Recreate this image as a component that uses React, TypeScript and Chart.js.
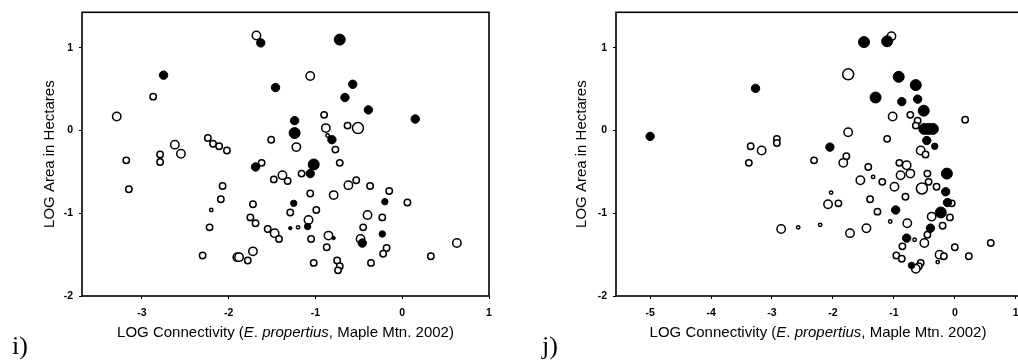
import React, { useEffect, useRef } from "react";
import { Chart, registerables } from "chart.js";
Chart.register(...registerables);

type Pt = [number, number, number];

const yTicks = [-2, -1, 0, 1];
const leftXTicks = [-3, -2, -1, 0, 1];
const rightXTicks = [-5, -4, -3, -2, -1, 0, 1];
const yTitle = "LOG Area in Hectares";
const xTitleParts: [string, boolean][] = [
  ["LOG Connectivity (", false],
  ["E", true],
  [". ", false],
  ["propertius", true],
  [", Maple Mtn. 2002)", false],
];

// [log connectivity, log area, size class]
const leftFilled: Pt[] = [
  [-2.75, 0.67, 3], [-1.63, 1.06, 3], [-0.72, 1.10, 4], [-1.46, 0.52, 3],
  [-0.57, 0.56, 3], [-0.66, 0.40, 3], [-0.39, 0.25, 3], [0.15, 0.14, 3],
  [-1.24, 0.12, 3], [-1.24, -0.03, 4], [-0.81, -0.11, 3], [-1.69, -0.44, 3],
  [-1.02, -0.41, 4], [-1.06, -0.52, 3], [-0.20, -0.86, 2], [-1.25, -0.88, 2],
  [-1.29, -1.18, 1], [-1.09, -1.16, 2], [-0.23, -1.25, 2], [-0.46, -1.36, 3],
  [-0.79, -1.30, 1],
];

const leftOpen: Pt[] = [
  [-2.87, 0.41, 2], [-3.29, 0.17, 3], [-3.18, -0.36, 2], [-2.79, -0.29, 2],
  [-2.79, -0.38, 2], [-2.62, -0.17, 3], [-2.55, -0.28, 3], [-2.24, -0.09, 2],
  [-2.18, -0.16, 2], [-2.11, -0.19, 2], [-2.02, -0.24, 2], [-1.68, 1.15, 3],
  [-1.06, 0.66, 3], [-0.90, 0.19, 2], [-0.88, 0.03, 3], [-0.63, 0.06, 2],
  [-0.51, 0.03, 4], [-1.51, -0.11, 2], [-1.22, -0.20, 3], [-0.86, -0.06, 1],
  [-0.77, -0.23, 2], [-0.72, -0.39, 2], [-1.62, -0.39, 2], [-1.16, -0.52, 2],
  [-1.38, -0.54, 3], [-1.32, -0.61, 2], [-1.48, -0.59, 2], [-0.53, -0.60, 2],
  [-1.06, -0.76, 2], [-0.79, -0.78, 3], [-0.62, -0.66, 3], [-0.37, -0.67, 2],
  [-0.15, -0.73, 2], [0.06, -0.87, 2], [-1.72, -0.89, 2], [-1.29, -0.99, 2],
  [-0.99, -0.96, 2], [-1.75, -1.05, 2], [-1.69, -1.12, 2], [-0.40, -1.02, 3],
  [-0.23, -1.05, 2], [-1.55, -1.19, 2], [-1.47, -1.24, 3], [-1.42, -1.31, 2],
  [-1.20, -1.17, 1], [-1.08, -1.08, 3], [-0.45, -1.17, 2], [-1.05, -1.31, 2],
  [-0.85, -1.27, 3], [-0.87, -1.41, 2], [-0.48, -1.31, 3], [-0.18, -1.42, 2],
  [-0.22, -1.49, 2], [0.63, -1.36, 3], [0.33, -1.52, 2], [-1.02, -1.60, 2],
  [-0.75, -1.57, 2], [-0.72, -1.64, 2], [-0.74, -1.69, 2], [-0.36, -1.60, 2],
  [-1.90, -1.53, 3], [-1.88, -1.53, 3], [-1.78, -1.57, 2], [-1.72, -1.46, 3],
  [-3.15, -0.71, 2], [-2.07, -0.67, 2], [-2.09, -0.83, 2], [-2.20, -0.96, 1],
  [-2.22, -1.17, 2], [-2.30, -1.51, 2],
];

const rightFilled: Pt[] = [
  [-5.0, -0.07, 3], [-3.27, 0.51, 3], [-1.49, 1.07, 4], [-1.11, 1.08, 4],
  [-0.92, 0.65, 4], [-0.64, 0.55, 4], [-1.30, 0.40, 4], [-0.87, 0.35, 3],
  [-0.61, 0.38, 3], [-0.51, 0.24, 4], [-0.50, 0.02, 4], [-0.43, 0.02, 4],
  [-0.36, 0.02, 4], [-0.46, -0.12, 3], [-0.33, -0.19, 2], [-2.05, -0.20, 3],
  [-0.13, -0.52, 4], [-0.15, -0.74, 3], [-0.12, -0.87, 3], [-0.97, -0.96, 3],
  [-0.23, -0.99, 4], [-0.40, -1.18, 3], [-0.79, -1.30, 3], [-0.71, -1.63, 2],
];

const rightOpen: Pt[] = [
  [-3.35, -0.19, 2], [-3.17, -0.24, 3], [-2.92, -0.10, 2], [-2.92, -0.15, 2],
  [-3.38, -0.39, 2], [-1.04, 1.14, 3], [-1.75, 0.68, 4], [-1.02, 0.17, 3],
  [-0.73, 0.19, 2], [-0.61, 0.12, 2], [-0.64, 0.06, 2], [0.17, 0.13, 2],
  [-1.75, -0.02, 3], [-1.11, -0.10, 2], [-0.56, -0.24, 3], [-0.48, -0.29, 2],
  [-2.31, -0.36, 2], [-1.78, -0.31, 2], [-1.83, -0.39, 3], [-1.42, -0.44, 2],
  [-0.91, -0.39, 2], [-0.79, -0.42, 3], [-0.73, -0.52, 3], [-0.89, -0.54, 3],
  [-0.45, -0.52, 2], [-0.43, -0.62, 2], [-1.55, -0.60, 3], [-1.34, -0.56, 1],
  [-1.19, -0.62, 2], [-0.99, -0.68, 3], [-0.54, -0.70, 4], [-0.30, -0.68, 2],
  [-2.03, -0.75, 1], [-2.08, -0.89, 3], [-1.91, -0.88, 2], [-1.39, -0.83, 2],
  [-0.81, -0.80, 2], [-0.05, -0.88, 2], [-1.27, -0.98, 2], [-1.06, -1.10, 1],
  [-0.78, -1.12, 3], [-0.38, -1.04, 3], [-0.08, -1.05, 2], [-0.20, -1.15, 2],
  [-2.85, -1.19, 3], [-2.57, -1.17, 1], [-2.21, -1.14, 1], [-1.72, -1.24, 3],
  [-1.45, -1.18, 3], [-0.45, -1.26, 2], [-0.66, -1.32, 1], [-0.50, -1.36, 3],
  [-0.86, -1.40, 2], [0.00, -1.41, 2], [0.59, -1.36, 2], [-0.96, -1.51, 2],
  [-0.87, -1.55, 2], [-0.25, -1.50, 3], [-0.18, -1.52, 2], [-0.28, -1.59, 1],
  [0.23, -1.52, 2], [-0.56, -1.60, 2], [-0.59, -1.64, 2], [-0.64, -1.67, 3],
];

const RADII = [0, 1.7, 3.2, 4.2, 5.5];
const FONT = "'Liberation Sans', Arial, Helvetica, sans-serif";
const H = 362;
const PLOT_TOP = 11;
const PLOT_BOTTOM = 296;
const Y_W = 30;
const X_H = 30;
const TITLE_SIZE = 15;

type PanelProps = {
  left: number;
  width: number;
  plotLeft: number;
  plotRight: number;
  xMin: number;
  xMax: number;
  xTicks: number[];
  filled: Pt[];
  open: Pt[];
  yTitleX: number;
};

function Panel(p: PanelProps) {
  const ref = useRef<HTMLCanvasElement | null>(null);
  useEffect(() => {
    const canvas = ref.current;
    if (!canvas) return;
    const toData = (a: Pt[]) => a.map(([x, y, s]) => ({ x, y, s }));

    const framePlugin = {
      id: "frame",
      afterDraw(chart: any) {
        const { ctx, chartArea: a } = chart;
        ctx.save();
        ctx.strokeStyle = "#000";
        ctx.lineWidth = 1.6;
        ctx.strokeRect(a.left, a.top, a.right - a.left, a.bottom - a.top);
        ctx.restore();
      },
    };

    const titlePlugin = {
      id: "titles",
      afterDraw(chart: any) {
        const { ctx, chartArea: a } = chart;
        ctx.save();
        ctx.fillStyle = "#000";
        ctx.textBaseline = "middle";
        ctx.textAlign = "center";
        ctx.font = `${TITLE_SIZE}px ${FONT}`;
        ctx.translate(p.yTitleX, (a.top + a.bottom) / 2);
        ctx.rotate(-Math.PI / 2);
        ctx.fillText(yTitle, 0, 0);
        ctx.restore();

        ctx.save();
        ctx.fillStyle = "#000";
        ctx.textBaseline = "middle";
        ctx.textAlign = "left";
        const fontOf = (it: boolean) => `${it ? "italic " : ""}${TITLE_SIZE}px ${FONT}`;
        let total = 0;
        for (const [t, it] of xTitleParts) {
          ctx.font = fontOf(it);
          total += ctx.measureText(t).width;
        }
        let x = (a.left + a.right) / 2 - total / 2;
        for (const [t, it] of xTitleParts) {
          ctx.font = fontOf(it);
          ctx.fillText(t, x, 333);
          x += ctx.measureText(t).width;
        }
        ctx.restore();
      },
    };

    const radius = (c: any) => RADII[(c.raw && c.raw.s) || 2];

    const chart = new Chart(canvas, {
      type: "scatter",
      data: {
        datasets: [
          {
            data: toData(p.filled),
            backgroundColor: "#000",
            borderColor: "#000",
            borderWidth: 1,
            pointRadius: radius,
            pointHoverRadius: radius,
          } as any,
          {
            data: toData(p.open),
            backgroundColor: "#fff",
            borderColor: "#000",
            borderWidth: 1.5,
            pointRadius: radius,
            pointHoverRadius: radius,
          } as any,
        ],
      },
      options: {
        animation: false,
        responsive: false,
        devicePixelRatio: 1,
        events: [],
        layout: {
          padding: {
            left: p.plotLeft - Y_W,
            right: p.width - p.plotRight,
            top: PLOT_TOP,
            bottom: H - PLOT_BOTTOM - X_H,
          },
        },
        plugins: { legend: { display: false }, tooltip: { enabled: false } },
        scales: {
          x: {
            type: "linear",
            min: p.xMin,
            max: p.xMax,
            afterBuildTicks: (s: any) => {
              s.ticks = p.xTicks.map((v) => ({ value: v }));
            },
            afterFit: (s: any) => {
              s.height = X_H;
            },
            grid: {
              display: true,
              drawOnChartArea: false,
              drawTicks: true,
              tickLength: 3,
              tickColor: "#000",
              lineWidth: 1,
            },
            border: { display: false },
            ticks: {
              color: "#000",
              font: { family: FONT, size: 10.5, weight: "bold" },
              padding: 8,
              maxRotation: 0,
              autoSkip: false,
              callback: (v: any) => String(v),
            },
          },
          y: {
            type: "linear",
            min: -2,
            max: 1.43,
            afterBuildTicks: (s: any) => {
              s.ticks = yTicks.map((v) => ({ value: v }));
            },
            afterFit: (s: any) => {
              s.width = Y_W;
            },
            grid: {
              display: true,
              drawOnChartArea: false,
              drawTicks: true,
              tickLength: 3,
              tickColor: "#000",
              lineWidth: 1,
            },
            border: { display: false },
            ticks: {
              color: "#000",
              font: { family: FONT, size: 10.5, weight: "bold" },
              padding: 6,
              autoSkip: false,
              callback: (v: any) => String(v),
            },
          },
        },
      } as any,
      plugins: [framePlugin, titlePlugin],
    });
    return () => chart.destroy();
  }, []);

  return (
    <canvas
      ref={ref}
      width={p.width}
      height={H}
      style={{ position: "absolute", left: p.left, top: 0, width: p.width, height: H }}
    />
  );
}

const labelStyle: React.CSSProperties = {
  position: "absolute",
  fontFamily: "'Liberation Serif', 'Times New Roman', serif",
  fontSize: 26,
  lineHeight: "30px",
  color: "#000",
};

export default function App() {
  return (
    <div
      style={{
        position: "absolute",
        left: 0,
        top: 0,
        width: 1018,
        height: 362,
        overflow: "hidden",
        background: "#fff",
      }}
    >
      <Panel
        left={0}
        width={509}
        plotLeft={82}
        plotRight={489}
        xMin={-3.69}
        xMax={1.0}
        xTicks={leftXTicks}
        filled={leftFilled}
        open={leftOpen}
        yTitleX={50}
      />
      <Panel
        left={509}
        width={520}
        plotLeft={107}
        plotRight={511}
        xMin={-5.56}
        xMax={1.07}
        xTicks={rightXTicks}
        filled={rightFilled}
        open={rightOpen}
        yTitleX={73}
      />
      <div style={{ ...labelStyle, left: 12, top: 331 }}>i)</div>
      <div style={{ ...labelStyle, left: 542, top: 331 }}>j)</div>
    </div>
  );
}
